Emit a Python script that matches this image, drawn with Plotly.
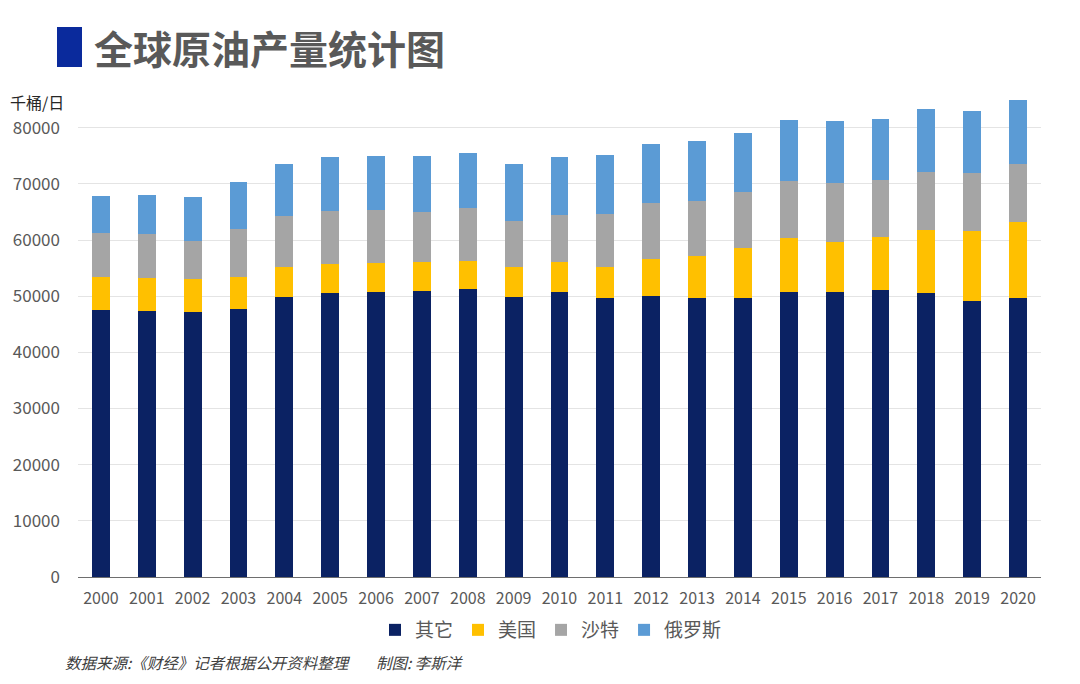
import plotly.graph_objects as go

# 全球原油产量 (千桶/日), values
years = [str(y) for y in range(2000, 2021)]
other = [47500, 47400, 47200, 47700, 49800, 50500, 50800, 50900, 51200, 49800, 50700,
         49600, 50100, 49600, 49600, 50700, 50700, 51100, 50500, 49200, 49600]
usa = [5900, 5900, 5800, 5700, 5400, 5200, 5100, 5200, 5100, 5400, 5400,
       5600, 6600, 7600, 9000, 9600, 8900, 9400, 11300, 12400, 13600]
saudi = [7900, 7700, 6900, 8500, 9100, 9500, 9400, 8900, 9400, 8200, 8400,
         9500, 9900, 9800, 9900, 10200, 10600, 10200, 10300, 10400, 10300]
russia = [6600, 7100, 7800, 8400, 9300, 9600, 9700, 10000, 9800, 10200, 10300,
          10400, 10500, 10600, 10600, 10900, 11000, 10900, 11200, 11000, 11400]

names = ['其它', '美国', '沙特', '俄罗斯']
colors = ['#0B2263', '#FFC000', '#A5A5A5', '#5B9BD5']
y_ticks = [0, 10000, 20000, 30000, 40000, 50000, 60000, 70000, 80000]
y_ticktext = [str(v) for v in y_ticks]

font_cn = 'Noto Sans CJK SC'

# plot area in page pixels: x 78..1041, y 94..577
PL, PW, PT, PH = 78, 963, 94, 483


def px(x):
    return (x - PL) / PW


def py(y):
    return 1 - (y - PT) / PH


fig = go.Figure()
for name, vals, col in zip(names, [other, usa, saudi, russia], colors):
    fig.add_trace(go.Bar(x=years, y=vals, name=name, marker=dict(color=col, line=dict(width=0))))

fig.update_layout(
    width=1080, height=684,
    barmode='stack', bargap=0.61,
    paper_bgcolor='white', plot_bgcolor='white',
    margin=dict(l=PL, r=1080 - PL - PW, t=PT, b=684 - PT - PH, autoexpand=False),
    font=dict(family=font_cn, color='#595959', size=15),
    showlegend=True,
    legend=dict(orientation='h', x=px(551), xanchor='center', y=py(630), yanchor='middle',
                font=dict(size=19, color='#595959'), itemwidth=30, traceorder='normal',
                itemclick=False, tracegroupgap=0),
    xaxis=dict(type='category', showgrid=False, showline=True, linecolor='#6E6E6E',
               linewidth=1, ticks='', tickfont=dict(size=16, color='#595959'),
               ticklabelstandoff=7, automargin=False),
    yaxis=dict(range=[0, 86000], tickvals=y_ticks, ticktext=y_ticktext, showgrid=True,
               gridcolor='#E4E4E4', zeroline=False, showline=False, ticks='',
               tickfont=dict(size=17, color='#595959'), ticklabelstandoff=17,
               automargin=False),
)

# title block
fig.add_shape(type='rect', xref='paper', yref='paper', x0=px(57), x1=px(82),
              y0=py(67), y1=py(27), fillcolor='#0A2A9C', line=dict(width=0))
fig.add_annotation(text='<b>全球原油产量统计图</b>', xref='paper', yref='paper',
                   x=px(92), y=py(47), xanchor='left', yanchor='middle',
                   showarrow=False, font=dict(size=39, color='#595959', family=font_cn))
fig.add_annotation(text='千桶/日', xref='paper', yref='paper',
                   x=px(8), y=py(102), xanchor='left', yanchor='middle',
                   showarrow=False, font=dict(size=16, color='#262626', family=font_cn))
fig.add_annotation(text='<i>数据来源:《财经》记者根据公开资料整理</i>',
                   xref='paper', yref='paper',
                   x=px(63), y=py(662), xanchor='left', yanchor='middle',
                   showarrow=False, font=dict(size=15.5, color='#404040', family=font_cn))
fig.add_annotation(text='<i>制图: 李斯洋</i>',
                   xref='paper', yref='paper',
                   x=px(374), y=py(662), xanchor='left', yanchor='middle',
                   showarrow=False, font=dict(size=15.5, color='#404040', family=font_cn))

# drop the default 8px page margin so the figure sits at the window corner
fig.write_html("out.html", config={'displayModeBar': False},
               post_script="document.body.style.margin = '0';")
